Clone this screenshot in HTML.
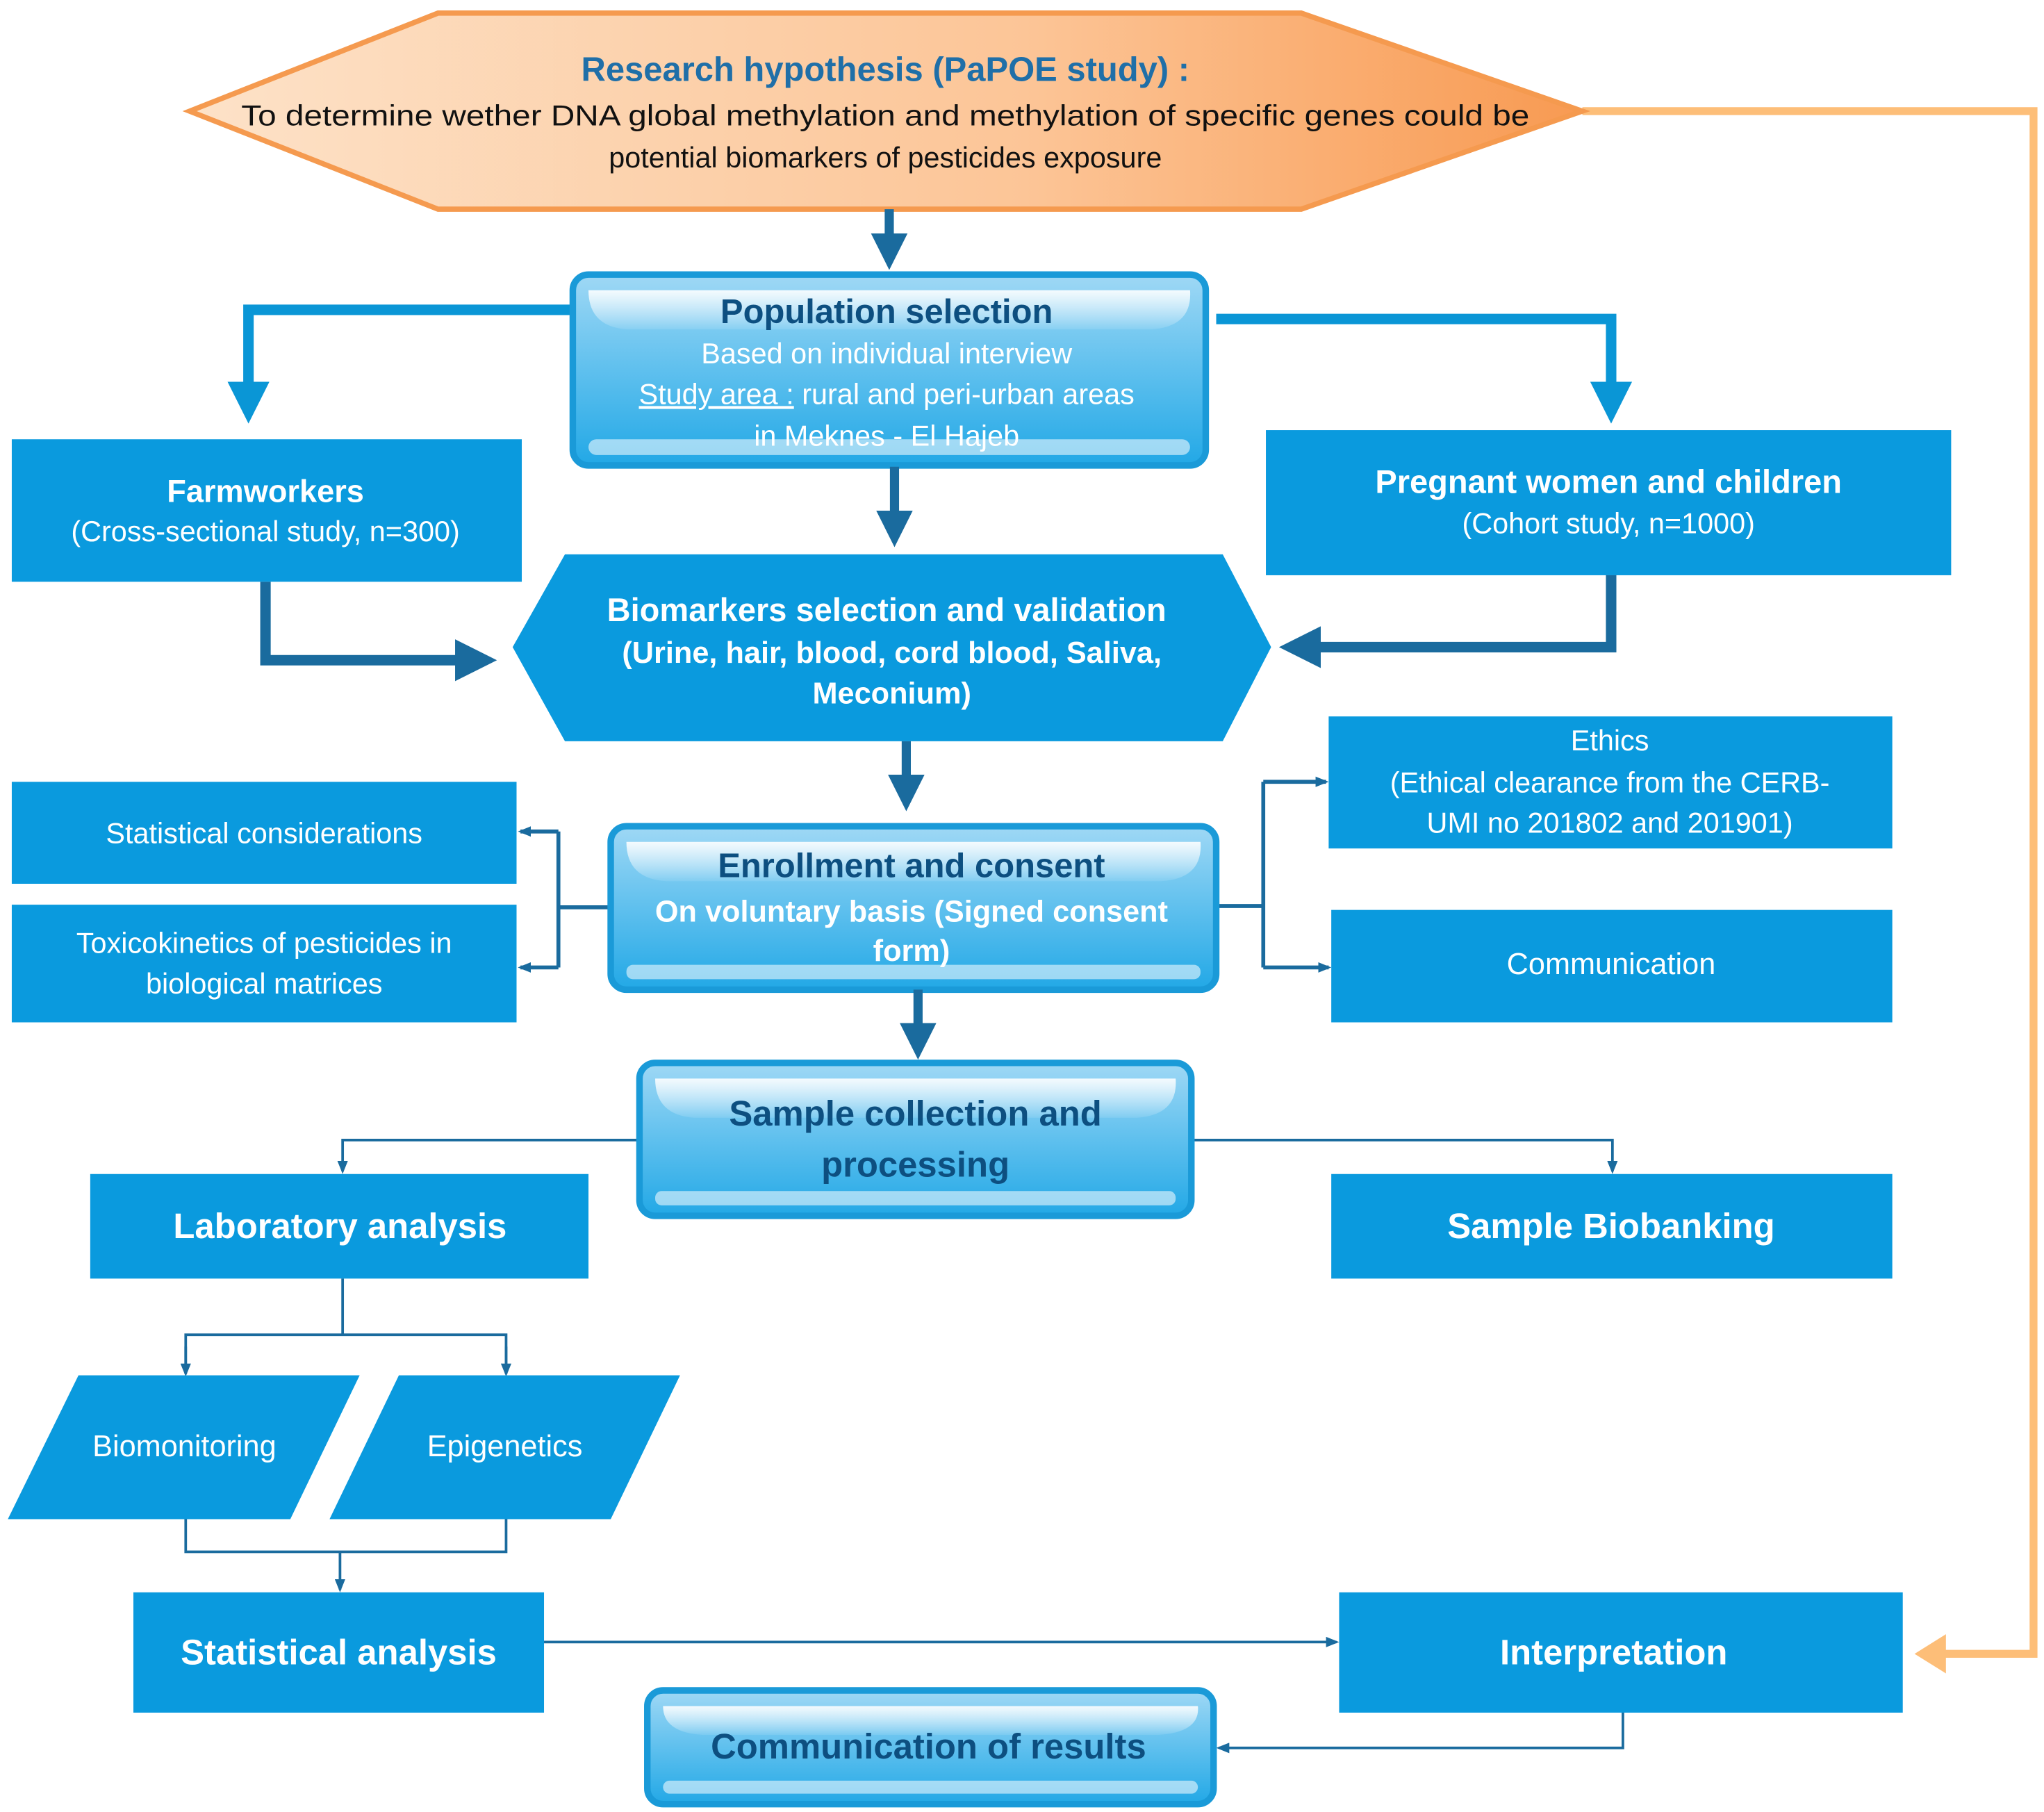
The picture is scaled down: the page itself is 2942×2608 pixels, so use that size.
<!DOCTYPE html>
<html><head><meta charset="utf-8"><style>
html,body{margin:0;padding:0;background:#fff;}
svg{display:block;}
text{font-family:"Liberation Sans",sans-serif;}
</style></head><body>
<svg width="2942" height="2608" viewBox="0 0 1563 1386" preserveAspectRatio="none" xmlns="http://www.w3.org/2000/svg">
<defs>
<linearGradient id="og" x1="0" y1="0" x2="1" y2="0">
<stop offset="0" stop-color="#fde2c8"/><stop offset="0.6" stop-color="#fcc597"/><stop offset="1" stop-color="#f89a52"/>
</linearGradient>
<linearGradient id="gl" x1="0" y1="0" x2="0" y2="1">
<stop offset="0" stop-color="#9fd8f5"/><stop offset="0.5" stop-color="#5fc0ee"/><stop offset="1" stop-color="#22a8e6"/>
</linearGradient>
<linearGradient id="hl" x1="0" y1="0" x2="0" y2="1">
<stop offset="0" stop-color="#ffffff" stop-opacity="0.9"/><stop offset="1" stop-color="#ffffff" stop-opacity="0.1"/>
</linearGradient>
<marker id="ab" markerWidth="4" markerHeight="4" refX="2.5" refY="2" orient="auto" markerUnits="strokeWidth"><path d="M0,0 L4,2 L0,4 z" fill="#1a6b9e"/></marker>
<marker id="al" markerWidth="4" markerHeight="4" refX="2.5" refY="2" orient="auto" markerUnits="strokeWidth"><path d="M0,0 L4,2 L0,4 z" fill="#0a96d6"/></marker>
<marker id="as" markerWidth="10" markerHeight="8" refX="8" refY="4" orient="auto" markerUnits="userSpaceOnUse"><path d="M0,0 L10,4 L0,8 z" fill="#1a6b9e"/></marker>
<marker id="ao" markerWidth="4" markerHeight="5" refX="3" refY="2.5" orient="auto" markerUnits="strokeWidth"><path d="M0,0 L4,2.5 L0,5 z" fill="#fdbe78"/></marker>
</defs>

<!-- orange feedback line -->
<polyline points="1210,85 1555,85 1555,1265 1470,1265" fill="none" stroke="#fdbe78" stroke-width="6" marker-end="url(#ao)"/>

<!-- hypothesis hexagon -->
<polygon points="145,85 335,10 995,10 1210,85 995,160 335,160" fill="url(#og)" stroke="#f59a4f" stroke-width="4"/>
<text x="677" y="62" text-anchor="middle" font-size="26" font-weight="bold" fill="#1f6fa8">Research hypothesis (PaPOE study) :</text>
<text x="677" y="96" text-anchor="middle" font-size="22" fill="#111" textLength="985" lengthAdjust="spacingAndGlyphs">To determine wether DNA global methylation and methylation of specific genes could be</text>
<text x="677" y="128" text-anchor="middle" font-size="22" fill="#111">potential biomarkers of pesticides exposure</text>

<line x1="680" y1="160" x2="680" y2="196" stroke="#1a6b9e" stroke-width="7" marker-end="url(#ab)"/>

<!-- population connectors -->
<polyline points="437,237 190,237 190,312" fill="none" stroke="#0a96d6" stroke-width="8" marker-end="url(#al)"/>
<polyline points="930,244 1232,244 1232,312" fill="none" stroke="#0a96d6" stroke-width="8" marker-end="url(#al)"/>

<!-- Population selection -->
<rect x="438" y="210" width="484" height="146" rx="12" fill="url(#gl)" stroke="#1a9ad8" stroke-width="5"/>
<path d="M450,222 H910 Q912,250 880,252 H480 Q450,250 450,222 z" fill="url(#hl)"/>
<rect x="450" y="336" width="460" height="12" rx="6" fill="#ffffff" opacity="0.55"/>
<text x="678" y="247" text-anchor="middle" font-size="26" font-weight="bold" fill="#0d4f80">Population selection</text>
<text x="678" y="278" text-anchor="middle" font-size="22" fill="#fff">Based on individual interview</text>
<text x="678" y="309" text-anchor="middle" font-size="22" fill="#fff"><tspan text-decoration="underline">Study area :</tspan> rural and peri-urban areas</text>
<text x="678" y="341" text-anchor="middle" font-size="22" fill="#fff">in Meknes - El Hajeb</text>

<line x1="684" y1="357" x2="684" y2="408" stroke="#1a6b9e" stroke-width="7" marker-end="url(#ab)"/>

<!-- Farmworkers -->
<rect x="9" y="336" width="390" height="109" fill="#0a9ade"/>
<text x="203" y="384" text-anchor="middle" font-size="24" font-weight="bold" fill="#fff">Farmworkers</text>
<text x="203" y="414" text-anchor="middle" font-size="22" fill="#fff">(Cross-sectional study, n=300)</text>

<!-- Pregnant -->
<rect x="968" y="329" width="524" height="111" fill="#0a9ade"/>
<text x="1230" y="377" text-anchor="middle" font-size="25" font-weight="bold" fill="#fff">Pregnant women and children</text>
<text x="1230" y="408" text-anchor="middle" font-size="22" fill="#fff">(Cohort study, n=1000)</text>

<!-- arrows to biomarkers -->
<polyline points="203,445 203,505 368,505" fill="none" stroke="#1a6b9e" stroke-width="8" marker-end="url(#ab)"/>
<polyline points="1232,440 1232,495 990,495" fill="none" stroke="#1a6b9e" stroke-width="8" marker-end="url(#ab)"/>

<!-- Biomarkers hexagon -->
<polygon points="392,495 432,424 935,424 972,495 935,567 432,567" fill="#0a9ade"/>
<text x="678" y="475" text-anchor="middle" font-size="25" font-weight="bold" fill="#fff">Biomarkers selection and validation</text>
<text x="682" y="507" text-anchor="middle" font-size="23" font-weight="bold" fill="#fff">(Urine, hair, blood, cord blood, Saliva,</text>
<text x="682" y="538" text-anchor="middle" font-size="23" font-weight="bold" fill="#fff">Meconium)</text>

<line x1="693" y1="567" x2="693" y2="610" stroke="#1a6b9e" stroke-width="7" marker-end="url(#ab)"/>

<!-- side boxes left -->
<rect x="9" y="598" width="386" height="78" fill="#0a9ade"/>
<text x="202" y="645" text-anchor="middle" font-size="22" fill="#fff">Statistical considerations</text>
<rect x="9" y="692" width="386" height="90" fill="#0a9ade"/>
<text x="202" y="729" text-anchor="middle" font-size="22" fill="#fff">Toxicokinetics of pesticides in</text>
<text x="202" y="760" text-anchor="middle" font-size="22" fill="#fff">biological matrices</text>

<polyline points="466,694 427,694" fill="none" stroke="#1a6b9e" stroke-width="3"/>
<polyline points="427,636 427,740" fill="none" stroke="#1a6b9e" stroke-width="3"/>
<line x1="427" y1="636" x2="398" y2="636" stroke="#1a6b9e" stroke-width="3" marker-end="url(#as)"/>
<line x1="427" y1="740" x2="398" y2="740" stroke="#1a6b9e" stroke-width="3" marker-end="url(#as)"/>

<!-- right side boxes -->
<rect x="1016" y="548" width="431" height="101" fill="#0a9ade"/>
<text x="1231" y="574" text-anchor="middle" font-size="22" fill="#fff">Ethics</text>
<text x="1231" y="606" text-anchor="middle" font-size="22" fill="#fff">(Ethical clearance from the CERB-</text>
<text x="1231" y="637" text-anchor="middle" font-size="22" fill="#fff">UMI no 201802 and 201901)</text>
<rect x="1018" y="696" width="429" height="86" fill="#0a9ade"/>
<text x="1232" y="745" text-anchor="middle" font-size="23" fill="#fff">Communication</text>

<line x1="930" y1="693" x2="966" y2="693" stroke="#1a6b9e" stroke-width="3"/>
<line x1="966" y1="598" x2="966" y2="740" stroke="#1a6b9e" stroke-width="3"/>
<line x1="966" y1="598" x2="1014" y2="598" stroke="#1a6b9e" stroke-width="3" marker-end="url(#as)"/>
<line x1="966" y1="740" x2="1016" y2="740" stroke="#1a6b9e" stroke-width="3" marker-end="url(#as)"/>

<!-- Enrollment -->
<rect x="467" y="632" width="463" height="125" rx="12" fill="url(#gl)" stroke="#1a9ad8" stroke-width="5"/>
<path d="M479,644 H918 Q920,672 888,674 H509 Q479,672 479,644 z" fill="url(#hl)"/>
<rect x="479" y="738" width="439" height="11" rx="5" fill="#ffffff" opacity="0.55"/>
<text x="697" y="671" text-anchor="middle" font-size="26" font-weight="bold" fill="#0d4f80">Enrollment and consent</text>
<text x="697" y="705" text-anchor="middle" font-size="23" font-weight="bold" fill="#fff">On voluntary basis (Signed consent</text>
<text x="697" y="735" text-anchor="middle" font-size="23" font-weight="bold" fill="#fff">form)</text>

<line x1="702" y1="757" x2="702" y2="800" stroke="#1a6b9e" stroke-width="7" marker-end="url(#ab)"/>

<!-- Sample collection connectors -->
<polyline points="488,872 262,872 262,896" fill="none" stroke="#1a6b9e" stroke-width="2" marker-end="url(#as)"/>
<polyline points="911,872 1233,872 1233,896" fill="none" stroke="#1a6b9e" stroke-width="2" marker-end="url(#as)"/>

<!-- Sample collection -->
<rect x="489" y="813" width="422" height="117" rx="12" fill="url(#gl)" stroke="#1a9ad8" stroke-width="5"/>
<path d="M501,825 H899 Q901,853 869,855 H531 Q501,853 501,825 z" fill="url(#hl)"/>
<rect x="501" y="911" width="398" height="11" rx="5" fill="#ffffff" opacity="0.55"/>
<text x="700" y="861" text-anchor="middle" font-size="27" font-weight="bold" fill="#0d4f80">Sample collection and</text>
<text x="700" y="900" text-anchor="middle" font-size="27" font-weight="bold" fill="#0d4f80">processing</text>

<rect x="69" y="898" width="381" height="80" fill="#0a9ade"/>
<text x="260" y="947" text-anchor="middle" font-size="27" font-weight="bold" fill="#fff">Laboratory analysis</text>
<rect x="1018" y="898" width="429" height="80" fill="#0a9ade"/>
<text x="1232" y="947" text-anchor="middle" font-size="27" font-weight="bold" fill="#fff">Sample Biobanking</text>

<polyline points="262,978 262,1021" fill="none" stroke="#1a6b9e" stroke-width="2"/>
<polyline points="142,1050 142,1021 387,1021 387,1050" fill="none" stroke="#1a6b9e" stroke-width="2"/>
<line x1="142" y1="1030" x2="142" y2="1051" stroke="#1a6b9e" stroke-width="2" marker-end="url(#as)"/>
<line x1="387" y1="1030" x2="387" y2="1051" stroke="#1a6b9e" stroke-width="2" marker-end="url(#as)"/>

<polygon points="60,1052 275,1052 222,1162 6,1162" fill="#0a9ade"/>
<text x="141" y="1114" text-anchor="middle" font-size="23" fill="#fff">Biomonitoring</text>
<polygon points="305,1052 520,1052 467,1162 252,1162" fill="#0a9ade"/>
<text x="386" y="1114" text-anchor="middle" font-size="23" fill="#fff">Epigenetics</text>

<polyline points="142,1162 142,1187 387,1187 387,1162" fill="none" stroke="#1a6b9e" stroke-width="2"/>
<line x1="260" y1="1187" x2="260" y2="1216" stroke="#1a6b9e" stroke-width="2" marker-end="url(#as)"/>

<rect x="102" y="1218" width="314" height="92" fill="#0a9ade"/>
<text x="259" y="1273" text-anchor="middle" font-size="27" font-weight="bold" fill="#fff">Statistical analysis</text>
<rect x="1024" y="1218" width="431" height="92" fill="#0a9ade"/>
<text x="1234" y="1273" text-anchor="middle" font-size="27" font-weight="bold" fill="#fff">Interpretation</text>

<line x1="416" y1="1256" x2="1022" y2="1256" stroke="#1a6b9e" stroke-width="2" marker-end="url(#as)"/>
<polyline points="1241,1310 1241,1337 932,1337" fill="none" stroke="#1a6b9e" stroke-width="2" marker-end="url(#as)"/>

<!-- Communication of results -->
<rect x="495" y="1293" width="433" height="87" rx="12" fill="url(#gl)" stroke="#1a9ad8" stroke-width="5"/>
<path d="M507,1305 H916 Q918,1325 886,1327 H537 Q507,1325 507,1305 z" fill="url(#hl)"/>
<rect x="507" y="1362" width="409" height="10" rx="5" fill="#ffffff" opacity="0.55"/>
<text x="710" y="1345" text-anchor="middle" font-size="27" font-weight="bold" fill="#0d4f80">Communication of results</text>
</svg>
</body></html>
